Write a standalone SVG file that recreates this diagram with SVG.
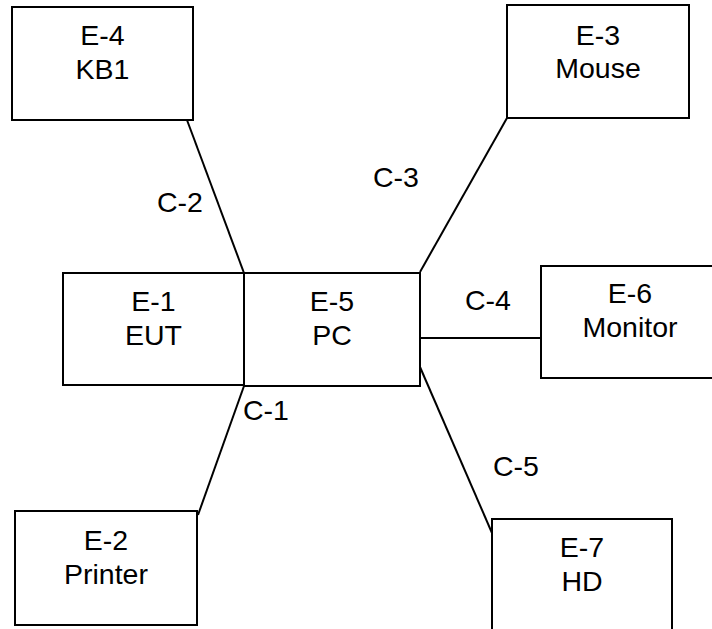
<svg xmlns="http://www.w3.org/2000/svg" width="712" height="629" viewBox="0 0 712 629">
<style>
.box{fill:#fff;stroke:#000;stroke-width:2}
.ln{stroke:#000;stroke-width:2;fill:none}
text{font-family:"Liberation Sans",Arial,sans-serif;font-size:28.5px;fill:#000;text-anchor:middle}
</style>
<rect width="712" height="629" fill="#fff"/>
<g id="connectors">
<line class="ln" x1="187" y1="120" x2="244" y2="273"/>
<line class="ln" x1="420" y1="272" x2="507" y2="118"/>
<line class="ln" x1="420" y1="338" x2="541" y2="338"/>
<line class="ln" x1="420" y1="367" x2="492" y2="533"/>
<line class="ln" x1="244" y1="386" x2="198" y2="515"/>
<text x="180" y="212">C-2</text>
<text x="396" y="187">C-3</text>
<text x="488" y="310">C-4</text>
<text x="266" y="420">C-1</text>
<text x="516" y="476">C-5</text>
</g>
<g id="E4"><rect class="box" x="12" y="7" width="181" height="113"/><text x="102.5" y="45">E-4</text><text x="102.5" y="79">KB1</text></g>
<g id="E3"><rect class="box" x="507" y="5" width="182" height="113"/><text x="598" y="45">E-3</text><text x="598" y="78">Mouse</text></g>
<g id="E1"><rect class="box" x="63" y="273" width="181" height="112"/><text x="153.5" y="311">E-1</text><text x="153.5" y="345">EUT</text></g>
<g id="E5"><rect class="box" x="244" y="273" width="176" height="113"/><text x="332" y="311">E-5</text><text x="332" y="345">PC</text></g>
<g id="E6"><rect class="box" x="541" y="266" width="180" height="112"/><text x="630" y="303">E-6</text><text x="630" y="337">Monitor</text></g>
<g id="E2"><rect class="box" x="15" y="511" width="182" height="114"/><text x="106" y="550">E-2</text><text x="106" y="584">Printer</text></g>
<g id="E7"><rect class="box" x="492" y="519" width="180" height="120"/><text x="582" y="557">E-7</text><text x="582" y="591">HD</text></g>
</svg>
